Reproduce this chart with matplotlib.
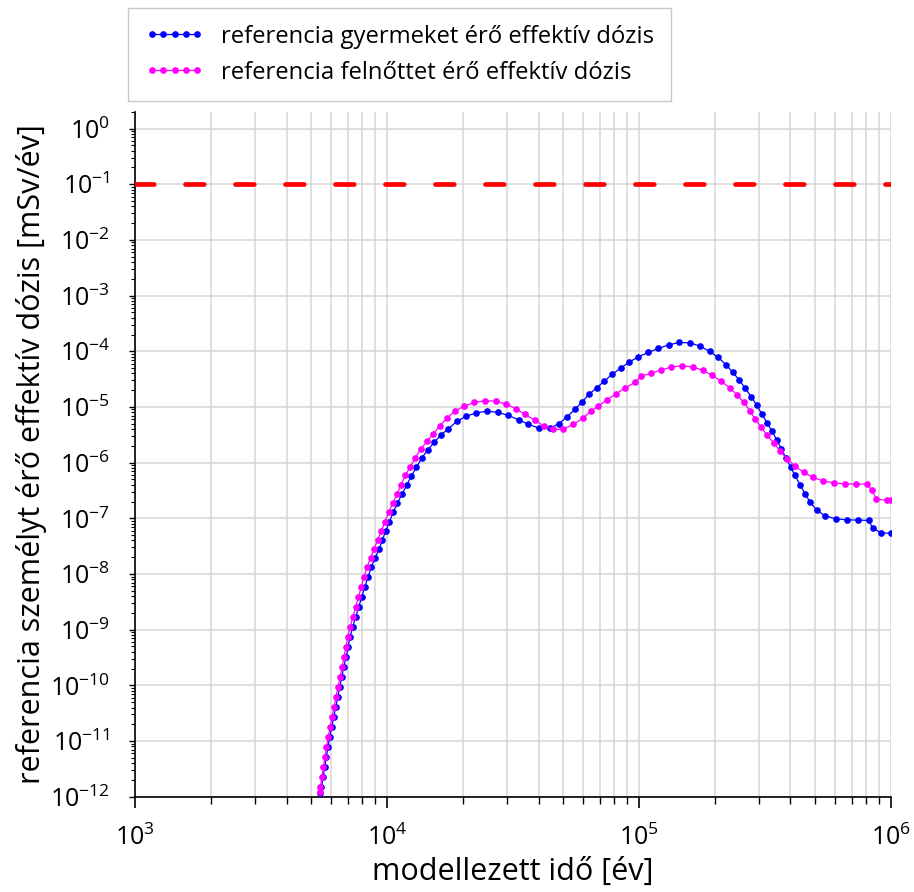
import numpy as np
import matplotlib
matplotlib.use("Agg")
import matplotlib.pyplot as plt
from matplotlib.ticker import LogLocator, NullFormatter

plt.rcParams['font.family'] = ['Open Sans', 'DejaVu Sans']
plt.rcParams['lines.scale_dashes'] = False

# values, stored as log10 (time [év], dose [mSv/év])
child_log_t = [
    3.736, 3.740, 3.747, 3.753, 3.760, 3.766, 3.773, 3.781, 3.789, 3.797,
    3.805, 3.813, 3.821, 3.829, 3.838, 3.846, 3.854, 3.864, 3.876, 3.888,
    3.900, 3.912, 3.925, 3.938, 3.953,
    3.969, 3.982, 3.995, 4.010, 4.025, 4.041, 4.060, 4.079, 4.097, 4.117,
    4.138, 4.162, 4.187, 4.215, 4.244, 4.277, 4.313, 4.354, 4.399, 4.441,
    4.482, 4.523, 4.561, 4.603, 4.647, 4.682, 4.714, 4.746, 4.774, 4.803,
    4.833,
    4.863, 4.895, 4.928, 4.962, 4.998, 5.038, 5.077, 5.119, 5.161, 5.203,
    5.244, 5.281, 5.316, 5.346, 5.374, 5.399, 5.423, 5.447, 5.468, 5.489,
    5.509, 5.529, 5.549, 5.566, 5.584, 5.603, 5.620, 5.640, 5.660, 5.681,
    5.707, 5.740, 5.782, 5.825, 5.869, 5.913, 5.929, 5.962, 6.000,
]
child_log_dose = [
    -11.933, -11.826, -11.646, -11.467, -11.287, -11.107, -10.928, -10.749, -10.569, -10.389,
    -10.210, -10.030, -9.851, -9.671, -9.492, -9.312, -9.133, -8.953, -8.774, -8.594,
    -8.415, -8.235, -8.056, -7.876, -7.714,
    -7.553, -7.391, -7.230, -7.063, -6.894, -6.732, -6.565, -6.404, -6.242, -6.086,
    -5.919, -5.775, -5.637, -5.501, -5.393, -5.260, -5.170, -5.106, -5.075, -5.099,
    -5.152, -5.231, -5.309, -5.381, -5.381, -5.303, -5.183, -5.045, -4.914, -4.770,
    -4.657,
    -4.537, -4.411, -4.303, -4.196, -4.100, -4.021, -3.950, -3.885, -3.842, -3.849,
    -3.908, -4.004, -4.111, -4.244, -4.381, -4.519, -4.668, -4.819, -4.968, -5.129,
    -5.285, -5.440, -5.601, -5.752, -5.914, -6.081, -6.230, -6.398, -6.560, -6.714,
    -6.858, -6.955, -7.009, -7.027, -7.032, -7.038, -7.181, -7.260, -7.271,
]

adult_log_t = [
    3.733, 3.736, 3.742, 3.748, 3.754, 3.760, 3.767, 3.775, 3.782, 3.790,
    3.798, 3.806, 3.814, 3.822, 3.830, 3.837, 3.845, 3.854, 3.865, 3.876,
    3.887, 3.898, 3.909, 3.921, 3.935,
    3.949, 3.963, 3.978, 3.992, 4.007, 4.023, 4.040, 4.056, 4.073, 4.093,
    4.113, 4.134, 4.159, 4.184, 4.210, 4.239, 4.270, 4.307, 4.347, 4.391,
    4.433, 4.474, 4.513, 4.549, 4.587, 4.622, 4.661, 4.700, 4.740, 4.777,
    4.809, 4.839,
    4.875, 4.909, 4.946, 4.984, 5.009, 5.047, 5.087, 5.128, 5.170, 5.214,
    5.255, 5.292, 5.328, 5.361, 5.390, 5.416, 5.441, 5.462, 5.486, 5.510,
    5.536, 5.562, 5.589, 5.620, 5.655, 5.692, 5.731, 5.775, 5.819, 5.861,
    5.905, 5.926, 5.943, 5.987, 6.000,
]
adult_log_dose = [
    -11.915, -11.826, -11.646, -11.467, -11.287, -11.107, -10.928, -10.749, -10.569, -10.389,
    -10.210, -10.030, -9.851, -9.671, -9.492, -9.312, -9.133, -8.953, -8.774, -8.594,
    -8.415, -8.235, -8.056, -7.876, -7.714,
    -7.553, -7.391, -7.230, -7.063, -6.894, -6.732, -6.565, -6.404, -6.230, -6.075,
    -5.914, -5.757, -5.619, -5.488, -5.339, -5.196, -5.075, -4.986, -4.919, -4.890,
    -4.896, -4.950, -5.034, -5.135, -5.237, -5.339, -5.404, -5.398, -5.314, -5.206,
    -5.081, -4.980,
    -4.872, -4.765, -4.657, -4.560, -4.447, -4.398, -4.339, -4.285, -4.262, -4.280,
    -4.345, -4.434, -4.542, -4.657, -4.783, -4.914, -5.070, -5.219, -5.368, -5.512,
    -5.650, -5.799, -5.932, -6.063, -6.176, -6.266, -6.327, -6.363, -6.380, -6.386,
    -6.386, -6.499, -6.655, -6.679, -6.679,
]

limit_t = [1e3, 1e6]
limit_dose = [0.1, 0.1]

child_t = 10 ** np.array(child_log_t)
child_dose = 10 ** np.array(child_log_dose)
adult_t = 10 ** np.array(adult_log_t)
adult_dose = 10 ** np.array(adult_log_dose)

fig = plt.figure(figsize=(9.14, 8.92), dpi=100)
ax = fig.add_axes([0.1477, 0.1068, 0.8268, 0.7679])

ax.plot(limit_t, limit_dose, color='#ff0000', lw=3.4, dashes=(13.5, 22.5),
        dash_capstyle='round', zorder=3)
l1, = ax.plot(child_t, child_dose, color='#0000ff', lw=0.9, marker='o', ms=3.8,
              zorder=4, label='referencia gyermeket érő effektív dózis')
l2, = ax.plot(adult_t, adult_dose, color='#ff00ff', lw=0.9, marker='o', ms=3.8,
              zorder=4, label='referencia felnőttet érő effektív dózis')

ax.set_xscale('log')
ax.set_yscale('log')
ax.set_xlim(1e3, 1e6)
ax.set_ylim(1e-12, 2)

ax.xaxis.set_major_locator(LogLocator(base=10, numticks=20))
ax.xaxis.set_minor_locator(LogLocator(base=10, subs=np.arange(2, 10), numticks=50))
ax.yaxis.set_major_locator(LogLocator(base=10, numticks=30))
ax.yaxis.set_minor_locator(LogLocator(base=10, subs=np.arange(2, 10), numticks=200))
ax.xaxis.set_minor_formatter(NullFormatter())
ax.yaxis.set_minor_formatter(NullFormatter())

ax.grid(which='major', axis='both', color='#d6d6d6', lw=1.1, zorder=0)
ax.grid(which='minor', axis='x', color='#d6d6d6', lw=1.1, zorder=0)
ax.set_axisbelow(True)

for s in ['top', 'right']:
    ax.spines[s].set_visible(False)
for s in ['left', 'bottom']:
    ax.spines[s].set_linewidth(1.2)

ax.tick_params(axis='x', which='major', direction='out', length=8, width=1.2,
               labelsize=18, pad=12)
ax.tick_params(axis='x', which='minor', direction='out', length=5, width=1.0)
ax.tick_params(axis='y', which='major', direction='out', length=4, width=1.0,
               labelsize=18, pad=14)
ax.tick_params(axis='y', which='minor', direction='out', length=3, width=0.8)

ax.set_xlabel('modellezett idő [év]', fontsize=22, labelpad=4)
ax.set_ylabel('referencia személyt érő effektív dózis [mSv/év]', fontsize=22, labelpad=2)

fig.legend(handles=[l1, l2], loc='upper left', bbox_to_anchor=(0.140, 0.991),
           borderaxespad=0, fontsize=17.2, numpoints=5, handlelength=2.5,
           frameon=True, fancybox=False, edgecolor='#c8c8c8', framealpha=1,
           borderpad=0.7, labelspacing=0.5, handletextpad=0.7)

fig.savefig('out.png', dpi=100)
